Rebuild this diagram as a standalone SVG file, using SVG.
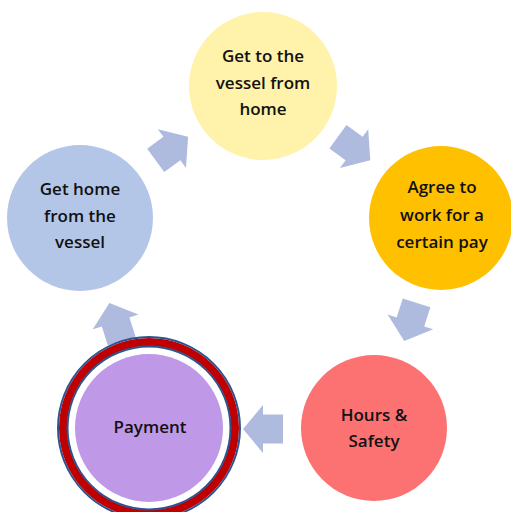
<svg xmlns="http://www.w3.org/2000/svg" width="511" height="512" viewBox="0 0 511 512">
  <style>
    .label { font-family: "Open Sans", "DejaVu Sans", sans-serif; font-size: 17px; font-weight: 600; fill: #111111; text-anchor: middle; }
    .arrow { fill: #AEBBDF; }
  </style>
  <defs>
    <!-- block arrow pointing along +x, origin at the head base -->
    <polygon id="blockArrow" points="20,0 0,-24 0,-14.5 -20,-14.5 -20,14.5 0,14.5 0,24"/>
  </defs>
  <rect width="511" height="512" fill="#ffffff"/>

  <g id="connectors">
    <use href="#blockArrow" class="arrow" transform="translate(263,274) rotate(306) translate(155,0) rotate(90)"/>
    <use href="#blockArrow" class="arrow" transform="translate(263,274) rotate(18) translate(155,0) rotate(90)"/>
    <use href="#blockArrow" class="arrow" transform="translate(263,274) rotate(90) translate(155,0) rotate(90)"/>
    <use href="#blockArrow" class="arrow" transform="translate(263,274) rotate(162) translate(155,0) rotate(90)"/>
    <use href="#blockArrow" class="arrow" transform="translate(263,274) rotate(234) translate(155,0) rotate(90)"/>
  </g>

  <g id="node-get-to-vessel">
    <circle cx="263" cy="86" r="74" fill="#FFF2AA"/>
    <text class="label" x="263" y="62">Get to the</text>
    <text class="label" x="263" y="88.5">vessel from</text>
    <text class="label" x="263" y="115">home</text>
  </g>

  <g id="node-agree-pay">
    <circle cx="441" cy="218" r="72" fill="#FFC000"/>
    <text class="label" x="442" y="193">Agree to</text>
    <text class="label" x="442" y="220.5">work for a</text>
    <text class="label" x="442" y="248">certain pay</text>
  </g>

  <g id="node-hours-safety">
    <circle cx="374" cy="428" r="73" fill="#FC7272"/>
    <text class="label" x="374" y="421">Hours &amp;</text>
    <text class="label" x="374" y="447">Safety</text>
  </g>

  <g id="node-payment">
    <circle cx="149" cy="428" r="86" fill="none" stroke="#C00000" stroke-width="8"/>
    <circle cx="149" cy="428" r="91" fill="none" stroke="#2F528F" stroke-width="2"/>
    <circle cx="149" cy="428" r="81.5" fill="none" stroke="#2F528F" stroke-width="2"/>
    <circle cx="149" cy="428" r="74" fill="#BF98E8"/>
    <text class="label" x="150" y="433">Payment</text>
  </g>

  <g id="node-get-home">
    <circle cx="80" cy="218" r="73" fill="#B4C6E7"/>
    <text class="label" x="80" y="195">Get home</text>
    <text class="label" x="80" y="222">from the</text>
    <text class="label" x="80" y="248">vessel</text>
  </g>
</svg>
